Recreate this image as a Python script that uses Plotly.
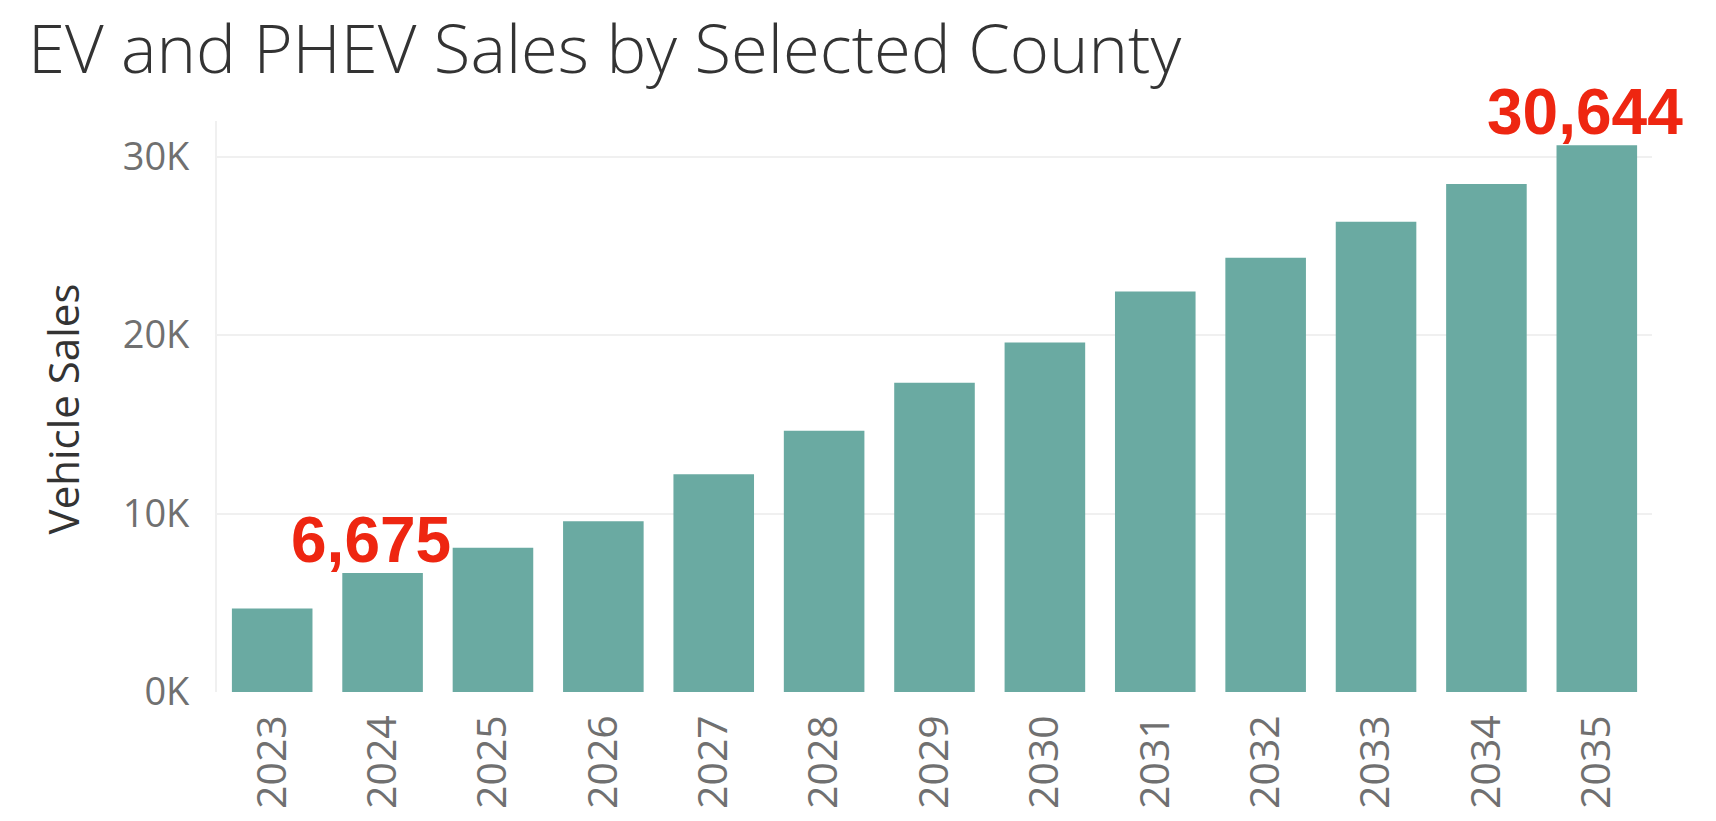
import plotly.graph_objects as go

# Annual EV + PHEV sales for the selected county
years = ["2023", "2024", "2025", "2026", "2027", "2028", "2029",
         "2030", "2031", "2032", "2033", "2034", "2035"]
sales = [4680, 6675, 8080, 9570, 12200, 14640, 17330,
         19590, 22450, 24340, 26350, 28470, 30644]

# Years whose value is called out above the bar
highlight_years = ["2024", "2035"]

y_tickvals = [0, 10000, 20000, 30000]
y_ticktext = ["0K", "10K", "20K", "30K"]

bar_color = "#6aaaa2"
label_color = "#ee2611"

fig = go.Figure(
    go.Bar(
        x=years,
        y=sales,
        marker=dict(color=bar_color, line=dict(width=0)),
        hoverinfo="x+y",
    )
)

for yr in highlight_years:
    i = years.index(yr)
    v = sales[i]
    fig.add_annotation(
        x=i, y=v, xref="x", yref="y",
        text=f"{v:,}",
        showarrow=False,
        xanchor="center", yanchor="bottom",
        xshift=-12, yshift=-5,
        font=dict(family="Liberation Sans, Arial, sans-serif", size=64,
                  color=label_color, weight="bold"),
    )

# Rotated y-axis title
fig.add_annotation(
    x=-0.108, y=0.495, xref="paper", yref="paper",
    text="Vehicle Sales", textangle=-90, showarrow=False,
    xanchor="center", yanchor="middle",
    font=dict(family="Open Sans, sans-serif", size=42, color="#333333"),
)

fig.update_layout(
    width=1716, height=821,
    margin=dict(l=217, r=64, t=121, b=126, pad=0),
    paper_bgcolor="white", plot_bgcolor="white",
    bargap=0.27,
    showlegend=False,
    title=dict(
        text="EV and PHEV Sales by Selected County",
        x=28 / 1716, xanchor="left", xref="container",
        y=1 - 50 / 821, yanchor="middle", yref="container",
        font=dict(family="Open Sans, sans-serif", size=67, color="#333333",
                  weight=300),
    ),
    xaxis=dict(
        type="category",
        range=[-0.5, len(years) - 0.5],
        tickangle=-90,
        tickfont=dict(family="Open Sans, sans-serif", size=41, color="#707070"),
        showgrid=False, zeroline=False,
        showline=False, ticks="",
        ticklabelstandoff=14,
    ),
    yaxis=dict(
        range=[0, 32000],
        tickvals=y_tickvals, ticktext=y_ticktext,
        tickfont=dict(family="Open Sans, sans-serif", size=38, color="#707070"),
        showgrid=True, gridcolor="#f0f0f0", gridwidth=2,
        zeroline=False,
        showline=True, linecolor="#f0f0f0", linewidth=2,
        ticks="",
        ticklabelstandoff=18,
    ),
)

fig.write_html("out.html")
